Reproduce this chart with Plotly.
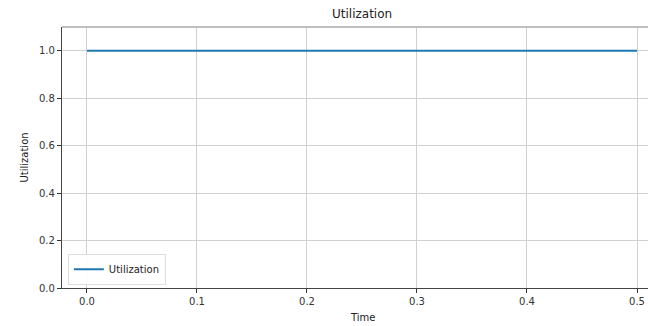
import plotly.graph_objects as go

time = [0.0, 0.5]
utilization = [1.0, 1.0]
x_ticks = [0.0, 0.1, 0.2, 0.3, 0.4, 0.5]
y_ticks = [0.0, 0.2, 0.4, 0.6, 0.8, 1.0]

W, H = 648, 326
L, R, T, B = 62, 0, 27, 38

fig = go.Figure()
fig.add_trace(go.Scatter(x=time, y=utilization, mode="lines", name="Utilization",
                         line=dict(color="#1f77b4", width=2)))

axis_common = dict(showgrid=True, gridcolor="#d0d0d0", gridwidth=1,
                   ticks="outside", ticklen=4, tickcolor="#333", tickwidth=1,
                   showline=True, linecolor="#444", linewidth=1.3, zeroline=False,
                   tickfont=dict(family="DejaVu Sans", size=10, color="#333"))

fig.update_xaxes(range=[-0.0227, (W - 87) / 1100], tickvals=x_ticks,
                 ticktext=[f"{v:.1f}" for v in x_ticks], **axis_common)
fig.update_yaxes(range=[0, 1.1], tickvals=y_ticks,
                 ticktext=[f"{v:.1f}" for v in y_ticks], **axis_common)

# top spine
fig.add_shape(type="line", xref="paper", yref="paper", x0=0, x1=1, y0=1, y1=1,
              line=dict(color="#aaaaaa", width=1.3))

cx = (362 - L) / (W - L)
fig.add_annotation(text="Utilization", xref="paper", yref="paper",
                   x=cx, y=1, yanchor="middle", xanchor="center", yshift=13, showarrow=False,
                   font=dict(family="DejaVu Sans", size=12, color="#222"))
fig.add_annotation(text="Time", xref="paper", yref="paper",
                   x=cx, y=0, yanchor="middle", xanchor="center", yshift=-29, showarrow=False,
                   font=dict(family="DejaVu Sans", size=10, color="#222"))
fig.add_annotation(text="Utilization", xref="paper", yref="paper",
                   x=0, xanchor="center", yanchor="middle", xshift=-38, y=0.5,
                   textangle=-90, showarrow=False,
                   font=dict(family="DejaVu Sans", size=10, color="#222"))

fig.update_layout(
    width=W, height=H, margin=dict(l=L, r=R, t=T, b=B),
    paper_bgcolor="white", plot_bgcolor="white",
    showlegend=True,
    legend=dict(x=0.01, y=0.012, xanchor="left", yanchor="bottom",
                bgcolor="rgba(255,255,255,0.9)", bordercolor="#dddddd", borderwidth=1,
                font=dict(family="DejaVu Sans", size=10, color="#222")),
)

fig.write_html("out.html")
